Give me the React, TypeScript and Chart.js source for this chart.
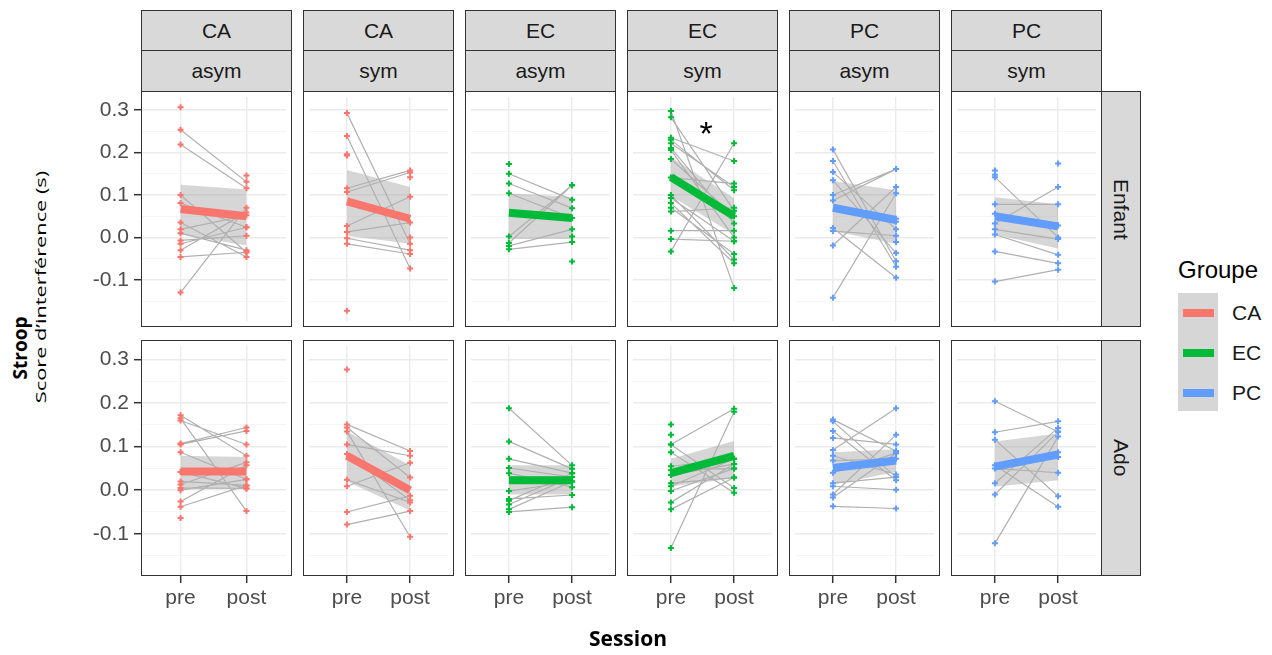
import React, { useEffect, useRef } from 'react';
import { Chart, registerables } from 'chart.js';
Chart.register(...registerables);

// ---------- labels / ticks ----------
const sessions = ['pre', 'post'];
const groupNames = ['CA', 'EC', 'PC'];
const groupColors = ['#F8766D', '#00BA38', '#619CFF'];
const panelGroups = ['CA', 'CA', 'EC', 'EC', 'PC', 'PC'];
const panelConditions = ['asym', 'sym', 'asym', 'sym', 'asym', 'sym'];
const rowNames = ['Enfant', 'Ado'];
const yMajorTicks = [-0.1, 0, 0.1, 0.2, 0.3];
const yMajorLabels = ['-0.1', '0.0', '0.1', '0.2', '0.3'];
const yMinorTicks = [-0.15, -0.05, 0.05, 0.15, 0.25];
const yLimits = [-0.197, 0.331];
const xLimits = [0.4, 2.6];

// ---------- individual scores (pre[i] -> post[i]) ----------
const caAsymEnfantPre = [0.307, 0.254, 0.219, 0.100, 0.081, 0.035, 0.019, 0.010, -0.007, -0.015, -0.030, -0.046, -0.130, null];
const caAsymEnfantPost = [null, 0.131, 0.116, -0.035, 0.024, -0.046, 0.052, -0.030, 0.004, 0.024, 0.059, -0.035, 0.070, 0.146];
const caSymEnfantPre = [0.293, 0.239, 0.196, 0.193, 0.116, 0.107, 0.027, 0.013, -0.002, -0.015, -0.173, null, null];
const caSymEnfantPost = [-0.015, -0.073, null, null, 0.158, 0.153, 0.096, 0.035, -0.030, -0.039, null, 0.142, 0.000];
const ecAsymEnfantPre = [0.173, 0.150, 0.127, 0.104, 0.002, -0.013, -0.020, -0.028, null, null];
const ecAsymEnfantPost = [null, 0.089, 0.069, 0.046, 0.123, 0.123, 0.019, -0.011, 0.002, -0.057];
const ecSymEnfantPre = [0.298, 0.283, 0.235, 0.230, 0.222, 0.211, 0.206, 0.185, 0.141, 0.100, 0.093, 0.081, 0.070, 0.061, 0.016, -0.004, -0.033];
const ecSymEnfantPost = [-0.119, 0.063, 0.180, 0.111, 0.119, 0.033, 0.000, 0.050, 0.127, -0.052, -0.009, -0.061, -0.039, 0.070, 0.016, -0.009, 0.222];
const pcAsymEnfantPre = [0.207, 0.180, 0.154, 0.135, 0.100, 0.087, 0.022, 0.015, -0.019, -0.142, null, null, null];
const pcAsymEnfantPost = [-0.056, -0.069, 0.019, -0.037, 0.161, 0.161, -0.095, 0.004, 0.119, 0.104, 0.044, 0.037, -0.011];
const pcSymEnfantPre = [0.158, 0.148, 0.142, 0.078, 0.056, 0.033, 0.019, 0.007, -0.033, -0.104, null];
const pcSymEnfantPost = [null, null, 0.000, 0.078, 0.028, 0.119, -0.004, -0.041, -0.061, -0.076, 0.174];

const caAsymAdoPre = [0.172, 0.165, 0.160, 0.107, 0.105, 0.087, 0.042, 0.020, 0.013, 0.005, 0.000, -0.026, -0.038, -0.064];
const caAsymAdoPost = [0.079, -0.048, 0.105, 0.144, 0.136, 0.025, 0.004, 0.011, 0.064, 0.004, 0.025, 0.057, 0.011, null];
const caSymAdoPre = [0.277, 0.151, 0.144, 0.135, 0.105, 0.083, 0.024, 0.009, -0.050, -0.079];
const caSymAdoPost = [null, 0.090, 0.029, -0.107, 0.079, -0.023, -0.028, 0.063, -0.013, -0.048];
const ecAsymAdoPre = [0.188, 0.112, 0.072, 0.051, 0.039, -0.002, -0.020, -0.024, -0.033, -0.044, -0.050];
const ecAsymAdoPost = [0.057, 0.049, 0.039, 0.030, 0.007, 0.020, -0.011, 0.039, 0.030, 0.020, -0.039];
const ecSymAdoPre = [0.151, 0.127, 0.105, 0.105, 0.087, 0.055, 0.046, 0.035, 0.016, 0.009, -0.002, -0.028, -0.044, -0.133];
const ecSymAdoPost = [null, null, 0.187, 0.005, -0.006, 0.072, 0.050, 0.060, 0.029, 0.072, 0.050, 0.060, 0.029, 0.180];
const pcAsymAdoPre = [0.162, 0.158, 0.136, 0.120, 0.092, 0.079, 0.068, 0.040, 0.016, 0.009, -0.010, -0.017, -0.037];
const pcAsymAdoPost = [0.090, 0.030, 0.023, 0.105, 0.188, 0.036, 0.072, 0.085, 0.030, 0.001, 0.127, 0.085, -0.042];
const pcSymAdoPre = [0.204, 0.133, 0.116, 0.057, 0.050, 0.016, -0.010, -0.122, null, null];
const pcSymAdoPost = [0.134, 0.158, -0.014, -0.038, 0.040, 0.143, 0.134, 0.123, 0.087, 0.076];

// ---------- linear fits and confidence bands (per column) ----------
const enfantFitPre = [0.067, 0.085, 0.058, 0.142, 0.070, 0.050];
const enfantFitPost = [0.050, 0.044, 0.046, 0.050, 0.041, 0.026];
const enfantLowPre = [0.007, 0.004, -0.004, 0.098, 0.015, 0.007];
const enfantLowPost = [-0.019, -0.015, -0.004, 0.007, -0.015, -0.026];
const enfantHighPre = [0.124, 0.159, 0.104, 0.189, 0.133, 0.095];
const enfantHighPost = [0.113, 0.119, 0.095, 0.093, 0.111, 0.078];
const adoFitPre = [0.043, 0.079, 0.023, 0.039, 0.051, 0.054];
const adoFitPost = [0.043, 0.000, 0.023, 0.079, 0.068, 0.082];
const adoLowPre = [0.001, 0.020, -0.010, 0.009, 0.013, 0.008];
const adoLowPost = [0.006, -0.047, -0.010, 0.027, 0.042, 0.023];
const adoHighPre = [0.079, 0.135, 0.057, 0.072, 0.087, 0.112];
const adoHighPost = [0.076, 0.057, 0.057, 0.113, 0.094, 0.130];

const enfantPre = [caAsymEnfantPre, caSymEnfantPre, ecAsymEnfantPre, ecSymEnfantPre, pcAsymEnfantPre, pcSymEnfantPre];
const enfantPost = [caAsymEnfantPost, caSymEnfantPost, ecAsymEnfantPost, ecSymEnfantPost, pcAsymEnfantPost, pcSymEnfantPost];
const adoPre = [caAsymAdoPre, caSymAdoPre, ecAsymAdoPre, ecSymAdoPre, pcAsymAdoPre, pcSymAdoPre];
const adoPost = [caAsymAdoPost, caSymAdoPost, ecAsymAdoPost, ecSymAdoPost, pcAsymAdoPost, pcSymAdoPost];

// ---------- layout ----------
const FONT = '"Liberation Sans", Arial, sans-serif';
const TITLE_FONT = '"Open Sans", "Liberation Sans", sans-serif';
const PANEL_X = [141, 303, 465, 627, 789, 951];
const PANEL_W = 151;
const PANEL_Y = [91, 340];
const PANEL_H = 236;
const Y_AXIS_W = 60;
const X_AXIS_H = 45;
const BORDER = '1.5px solid #333333';

const isMajor = (v: number) => yMajorTicks.some((t) => Math.abs(t - v) < 1e-6);

type PanelProps = {
  row: number; col: number;
  pre: (number | null)[]; post: (number | null)[];
  fit: number[]; low: number[]; high: number[]; color: string;
};

function Panel({ row, col, pre, post, fit, low, high, color }: PanelProps) {
  const ref = useRef<HTMLCanvasElement>(null);
  const isLeft = col === 0;
  const isBottom = row === 1;
  const w = PANEL_W + (isLeft ? Y_AXIS_W : 0);
  const h = PANEL_H + (isBottom ? X_AXIS_H : 0);

  useEffect(() => {
    const points: { x: number; y: number }[] = [];
    pre.forEach((v) => { if (v !== null) points.push({ x: 1, y: v }); });
    post.forEach((v) => { if (v !== null) points.push({ x: 2, y: v }); });
    const segs: { x: number; y: number | null }[] = [];
    pre.forEach((v, i) => {
      const p = post[i];
      if (v !== null && p !== null && p !== undefined) {
        segs.push({ x: 1, y: v }, { x: 2, y: p }, { x: 1.5, y: null });
      }
    });
    const zeroPad = (s: any) => { s.paddingTop = 0; s.paddingBottom = 0; s.paddingLeft = 0; s.paddingRight = 0; };
    const chart = new Chart(ref.current as HTMLCanvasElement, {
      type: 'line',
      data: {
        datasets: [
          { data: [{ x: 1, y: fit[0] }, { x: 2, y: fit[1] }], borderColor: color, borderWidth: 8, pointRadius: 0, fill: false, order: 0, borderCapStyle: 'butt' } as any,
          { data: points, showLine: false, pointStyle: 'cross', pointRadius: 3, borderColor: color, backgroundColor: color, pointBorderWidth: 2, order: 1 } as any,
          { data: segs, borderColor: '#B0B0B0', borderWidth: 1.2, pointRadius: 0, spanGaps: false, fill: false, order: 2 } as any,
          { data: [{ x: 1, y: high[0] }, { x: 2, y: high[1] }], borderColor: 'rgba(0,0,0,0)', borderWidth: 1, pointRadius: 0, fill: '+1', backgroundColor: 'rgba(153,153,153,0.4)', order: 3 } as any,
          { data: [{ x: 1, y: low[0] }, { x: 2, y: low[1] }], borderColor: 'rgba(0,0,0,0)', borderWidth: 1, pointRadius: 0, fill: false, order: 4 } as any,
        ],
      },
      options: {
        responsive: false,
        maintainAspectRatio: false,
        animation: false,
        devicePixelRatio: 1,
        events: [],
        layout: { padding: 0 },
        plugins: { legend: { display: false }, tooltip: { enabled: false } },
        scales: {
          x: {
            type: 'linear', min: xLimits[0], max: xLimits[1],
            afterBuildTicks: (s: any) => { s.ticks = [{ value: 1 }, { value: 2 }]; },
            afterFit: (s: any) => { s.height = isBottom ? X_AXIS_H : 0; zeroPad(s); },
            border: { display: false },
            grid: { color: '#EBEBEB', lineWidth: 1.4, drawTicks: isBottom, tickLength: 7, tickColor: '#333333', tickWidth: 1.5 },
            ticks: { display: isBottom, autoSkip: false, maxRotation: 0, padding: 3, color: '#4D4D4D', font: { family: FONT, size: 21 }, callback: (v: any) => sessions[Math.round(v) - 1] },
          },
          y: {
            type: 'linear', min: yLimits[0], max: yLimits[1],
            afterBuildTicks: (s: any) => { s.ticks = [...yMinorTicks, ...yMajorTicks].sort((a, b) => a - b).map((v) => ({ value: v })); },
            afterFit: (s: any) => { s.width = isLeft ? Y_AXIS_W : 0; zeroPad(s); },
            border: { display: false },
            grid: {
              color: (c: any) => (isMajor(c.tick?.value) ? '#EBEBEB' : '#F3F3F3'),
              lineWidth: (c: any) => (isMajor(c.tick?.value) ? 1.4 : 0.8),
              drawTicks: isLeft, tickLength: 7,
              tickColor: (c: any) => (isMajor(c.tick?.value) ? '#333333' : 'rgba(0,0,0,0)'),
              tickWidth: 1.5,
            },
            ticks: {
              display: isLeft, autoSkip: false, padding: 5, color: '#4D4D4D', font: { family: FONT, size: 21 },
              callback: (v: any) => { const i = yMajorTicks.findIndex((t) => Math.abs(t - v) < 1e-6); return i >= 0 ? yMajorLabels[i] : ''; },
            },
          },
        },
      } as any,
    });
    return () => chart.destroy();
  }, []);

  return (
    <>
      <canvas ref={ref} width={w} height={h}
        style={{ position: 'absolute', left: PANEL_X[col] - (isLeft ? Y_AXIS_W : 0), top: PANEL_Y[row], width: w, height: h }} />
      <div style={{ position: 'absolute', left: PANEL_X[col], top: PANEL_Y[row], width: PANEL_W, height: PANEL_H, border: BORDER, boxSizing: 'border-box', pointerEvents: 'none' }} />
    </>
  );
}

const stripBox = (left: number, top: number, width: number, height: number): React.CSSProperties => ({
  position: 'absolute', left, top, width, height, background: '#D9D9D9', border: BORDER, boxSizing: 'border-box',
  display: 'flex', alignItems: 'center', justifyContent: 'center', fontFamily: FONT, fontSize: 21, color: '#1A1A1A',
});

export default function App() {
  const rows = [
    { pre: enfantPre, post: enfantPost, fitPre: enfantFitPre, fitPost: enfantFitPost, lowPre: enfantLowPre, lowPost: enfantLowPost, highPre: enfantHighPre, highPost: enfantHighPost },
    { pre: adoPre, post: adoPost, fitPre: adoFitPre, fitPost: adoFitPost, lowPre: adoLowPre, lowPost: adoLowPost, highPre: adoHighPre, highPost: adoHighPost },
  ];
  return (
    <div style={{ position: 'absolute', left: 0, top: 0, width: 1272, height: 655, background: '#FFFFFF', overflow: 'hidden' }}>
      {rows.map((r, ri) => panelGroups.map((g, ci) => (
        <Panel key={`${ri}-${ci}`} row={ri} col={ci}
          pre={r.pre[ci]} post={r.post[ci]}
          fit={[r.fitPre[ci], r.fitPost[ci]]} low={[r.lowPre[ci], r.lowPost[ci]]} high={[r.highPre[ci], r.highPost[ci]]}
          color={groupColors[groupNames.indexOf(g)]} />
      )))}

      {panelGroups.map((g, ci) => (
        <React.Fragment key={`s-${ci}`}>
          <div style={stripBox(PANEL_X[ci], 10, PANEL_W, 41.5)}>{g}</div>
          <div style={stripBox(PANEL_X[ci], 50, PANEL_W, 42)}>{panelConditions[ci]}</div>
        </React.Fragment>
      ))}
      {rowNames.map((n, ri) => (
        <div key={`r-${ri}`} style={stripBox(PANEL_X[5] + PANEL_W - 1.5, PANEL_Y[ri], 40.5, PANEL_H)}>
          <span style={{ writingMode: 'vertical-rl' }}>{n}</span>
        </div>
      ))}

      {/* significance mark */}
      <div style={{ position: 'absolute', left: 706, top: 116, transform: 'translateX(-50%)', fontFamily: FONT, fontSize: 34, lineHeight: 1, color: '#000' }}>*</div>

      {/* axis titles */}
      <div style={{ position: 'absolute', left: 20, top: 348, transform: 'translate(-50%, -50%) rotate(-90deg)', whiteSpace: 'nowrap', fontFamily: TITLE_FONT, fontWeight: 700, fontSize: 19, color: '#000' }}>Stroop</div>
      <div style={{ position: 'absolute', left: 40, top: 287, transform: 'translate(-50%, -50%) rotate(-90deg) scaleX(1.45)', whiteSpace: 'nowrap', fontFamily: TITLE_FONT, fontSize: 15, color: '#000' }}>Score d’interférence (s)</div>
      <div style={{ position: 'absolute', left: 628, top: 638, transform: 'translate(-50%, -50%)', whiteSpace: 'nowrap', fontFamily: TITLE_FONT, fontWeight: 700, fontSize: 21, color: '#000' }}>Session</div>

      {/* legend */}
      <div style={{ position: 'absolute', left: 1178, top: 270, transform: 'translateY(-50%)', fontFamily: FONT, fontSize: 24, color: '#000', whiteSpace: 'nowrap' }}>Groupe</div>
      <div style={{ position: 'absolute', left: 1178, top: 293, width: 40, height: 118, background: '#D6D6D6' }} />
      {groupNames.map((g, i) => (
        <React.Fragment key={`l-${g}`}>
          <div style={{ position: 'absolute', left: 1183, top: 309 + i * 40, width: 31, height: 8, background: groupColors[i] }} />
          <div style={{ position: 'absolute', left: 1232, top: 313 + i * 40, transform: 'translateY(-50%)', fontFamily: FONT, fontSize: 21, color: '#1A1A1A', whiteSpace: 'nowrap' }}>{g}</div>
        </React.Fragment>
      ))}
    </div>
  );
}
